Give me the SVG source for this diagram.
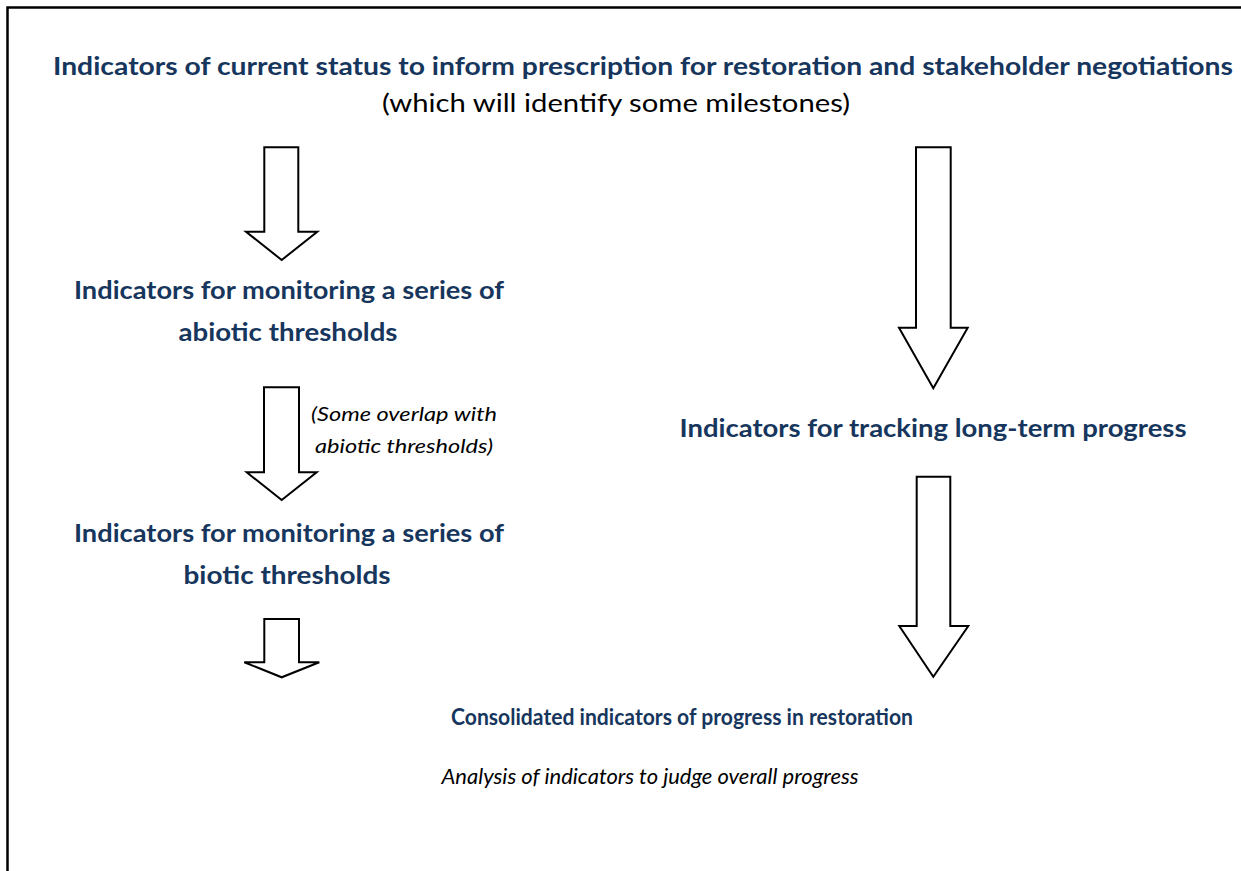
<svg xmlns="http://www.w3.org/2000/svg" width="1241" height="871" viewBox="0 0 1241 871">
<style>
.b{font-family:Lato,"Open Sans","Liberation Sans",sans-serif;font-weight:bold;font-size:25px;fill:#17365d;text-anchor:middle}
.c{font-family:Lato,"Open Sans","Liberation Sans",sans-serif;font-weight:bold;font-size:23px;fill:#17365d;text-anchor:middle}
.r{font-family:Lato,"Open Sans","Liberation Sans",sans-serif;font-size:25px;fill:#000;text-anchor:middle}
.i{font-family:Lato,"Open Sans","Liberation Sans",sans-serif;font-style:italic;font-size:22px;fill:#000;text-anchor:middle}
.s{font-family:Lato,"Open Sans","Liberation Sans",sans-serif;font-style:italic;font-size:20px;fill:#000;text-anchor:middle}
.a{fill:#fff;stroke:#000;stroke-width:2;stroke-linejoin:miter}
</style>
<rect width="1241" height="871" fill="#fff"/>
<path d="M7.5,871 V7.5 H1241" fill="none" stroke="#000" stroke-width="2.5"/>
<g id="n-status">
<text class="b" x="643" y="75" textLength="1180" lengthAdjust="spacingAndGlyphs">Indicators of current status to inform prescription for restoration and stakeholder negotiations</text>
<text class="r" x="616" y="112" textLength="468" lengthAdjust="spacingAndGlyphs">(which will identify some milestones)</text>
</g>
<g id="n-abiotic">
<text class="b" x="289" y="299" textLength="430" lengthAdjust="spacingAndGlyphs">Indicators for monitoring a series of</text>
<text class="b" x="288" y="341" textLength="219" lengthAdjust="spacingAndGlyphs">abiotic thresholds</text>
</g>
<g id="n-biotic">
<text class="b" x="289" y="542" textLength="430" lengthAdjust="spacingAndGlyphs">Indicators for monitoring a series of</text>
<text class="b" x="287" y="584" textLength="207" lengthAdjust="spacingAndGlyphs">biotic thresholds</text>
</g>
<g id="n-longterm">
<text class="b" x="933" y="437" textLength="507" lengthAdjust="spacingAndGlyphs">Indicators for tracking long-term progress</text>
</g>
<g id="n-consolidated">
<text class="c" x="682" y="725" textLength="462" lengthAdjust="spacingAndGlyphs">Consolidated indicators of progress in restoration</text>
<text class="i" x="650" y="784" textLength="417" lengthAdjust="spacingAndGlyphs">Analysis of indicators to judge overall progress</text>
</g>
<g id="connectors">
<polygon class="a" points="264.3,147.3 298.3,147.3 298.3,231.7 317.3,231.7 281.7,260 246,231.7 264.3,231.7"/>
<polygon class="a" points="916,147.3 950.7,147.3 950.7,327.7 967.7,327.7 933.3,388.3 899,327.7 916,327.7"/>
<polygon class="a" points="264,387.3 299,387.3 299,472.3 316.7,472.3 281.7,500 246.7,472.3 264,472.3"/>
<polygon class="a" points="264.3,619 299,619 299,662.3 319.3,662.3 281.7,677.3 244.3,662.3 264.3,662.3"/>
<polygon class="a" points="916.7,476.7 950.3,476.7 950.3,626 968.3,626 933.3,676.7 899.3,626 916.7,626"/>
<text class="s" x="404" y="421" textLength="186" lengthAdjust="spacingAndGlyphs">(Some overlap with</text>
<text class="s" x="404" y="453" textLength="178" lengthAdjust="spacingAndGlyphs">abiotic thresholds)</text>
</g>
</svg>
